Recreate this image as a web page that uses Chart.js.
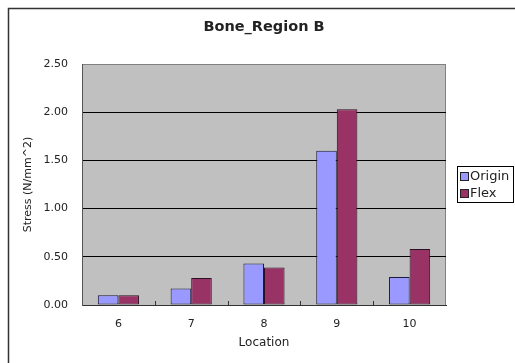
<!DOCTYPE html>
<html>
<head>
<meta charset="utf-8">
<script src="https://cdn.jsdelivr.net/npm/chart.js@4"></script>
<style>
  html, body { margin: 0; padding: 0; background: #fff; }
  canvas { display: block; }
</style>
</head>
<body>
<canvas id="chart" width="515" height="363"></canvas>
<script>
// Stress per location, two configurations
const categories = ['6', '7', '8', '9', '10'];
const originValues = [0.10, 0.17, 0.43, 1.60, 0.29];
const flexValues = [0.10, 0.28, 0.39, 2.03, 0.58];
const seriesNames = ['Origin', 'Flex'];
const yTicks = [0, 0.5, 1.0, 1.5, 2.0, 2.5];
const chartTitle = 'Bone_Region B';

const FONT = '"DejaVu Sans", sans-serif';
const TEXT = '#222';

// Grey plot background, outer frame, title centred over the plot,
// inner tick marks and the legend box
const decorations = {
  id: 'decorations',
  beforeDraw(chart) {
    const { ctx, chartArea: a } = chart;
    ctx.save();
    ctx.fillStyle = '#fff';
    ctx.fillRect(0, 0, chart.width, chart.height);
    ctx.strokeStyle = '#333';
    ctx.lineWidth = 1.5;
    ctx.strokeRect(8.5, 8.5, 700, 700);
    ctx.fillStyle = '#c0c0c0';
    ctx.fillRect(a.left, a.top, a.right - a.left, a.bottom - a.top);
    ctx.strokeStyle = '#808080';
    ctx.lineWidth = 1;
    ctx.beginPath();
    ctx.moveTo(a.right - 0.5, a.top);
    ctx.lineTo(a.right - 0.5, a.bottom);
    ctx.stroke();

    ctx.fillStyle = TEXT;
    ctx.font = 'bold 14.5px ' + FONT;
    ctx.textAlign = 'center';
    ctx.textBaseline = 'middle';
    ctx.fillText(chartTitle, (a.left + a.right) / 2, 27);
    ctx.restore();
  },
  afterDraw(chart) {
    const { ctx, chartArea: a } = chart;
    const xs = chart.scales.x;
    ctx.save();
    ctx.strokeStyle = '#333';
    ctx.lineWidth = 1;
    ctx.beginPath();
    for (let i = 1; i < categories.length; i++) {
      const x = Math.round((xs.getPixelForValue(i - 1) + xs.getPixelForValue(i)) / 2) + 0.5;
      ctx.moveTo(x, a.bottom);
      ctx.lineTo(x, a.bottom - 4);
    }
    ctx.stroke();

    // legend
    const bx = 457, by = 166, bw = 57, bh = 37;
    ctx.fillStyle = '#fff';
    ctx.fillRect(bx, by, bw, bh);
    ctx.strokeStyle = '#000';
    ctx.strokeRect(bx + 0.5, by + 0.5, bw - 1, bh - 1);
    ctx.font = '13px ' + FONT;
    ctx.textBaseline = 'middle';
    chart.data.datasets.forEach((ds, i) => {
      const cy = by + 10 + i * 17;
      ctx.fillStyle = ds.backgroundColor;
      ctx.fillRect(461, cy - 3, 7, 7);
      ctx.strokeStyle = '#222';
      ctx.strokeRect(460.5, cy - 3.5, 8, 8);
      ctx.fillStyle = TEXT;
      ctx.fillText(ds.label, 470, cy + 0.5);
    });
    ctx.restore();
  }
};

new Chart(document.getElementById('chart'), {
  type: 'bar',
  data: {
    labels: categories,
    datasets: [
      { label: seriesNames[0], data: originValues, backgroundColor: '#9999ff', borderColor: '#1a1a3a', borderWidth: 1, borderSkipped: false },
      { label: seriesNames[1], data: flexValues, backgroundColor: '#993366', borderColor: '#2a1020', borderWidth: 1, borderSkipped: false }
    ]
  },
  options: {
    responsive: false,
    animation: false,
    events: [],
    datasets: { bar: { categoryPercentage: 0.565, barPercentage: 1.0 } },
    layout: { padding: { left: 0, right: 69, top: 64, bottom: 0 } },
    plugins: {
      legend: { display: false },
      tooltip: { enabled: false },
      title: { display: false }
    },
    scales: {
      x: {
        afterFit(scale) { scale.height = 58; },
        grid: { display: true, drawOnChartArea: false, drawTicks: false },
        border: { display: true, color: '#333', width: 1 },
        ticks: { color: TEXT, font: { family: FONT, size: 11 }, padding: 13 },
        title: {
          display: true,
          text: 'Location',
          color: TEXT,
          font: { family: FONT, size: 12 },
          padding: { top: 0, bottom: 13 }
        }
      },
      y: {
        min: 0,
        max: 2.5,
        afterFit(scale) { scale.width = 82; },
        afterBuildTicks(scale) { scale.ticks = yTicks.map(v => ({ value: v })); },
        grid: {
          drawTicks: false,
          color: c => c.tick && c.tick.value === 2.5 ? '#808080' : (c.tick && c.tick.value === 0 ? 'rgba(0,0,0,0)' : '#000'),
          lineWidth: 1
        },
        border: { display: true, color: '#555', width: 1 },
        ticks: {
          color: TEXT,
          font: { family: FONT, size: 11 },
          padding: 14,
          callback: v => Number(v).toFixed(2)
        },
        title: {
          display: true,
          text: 'Stress (N/mm^2)',
          color: TEXT,
          font: { family: FONT, size: 11 },
          padding: { top: 22, bottom: 0 }
        }
      }
    }
  },
  plugins: [decorations]
});
</script>
</body>
</html>
